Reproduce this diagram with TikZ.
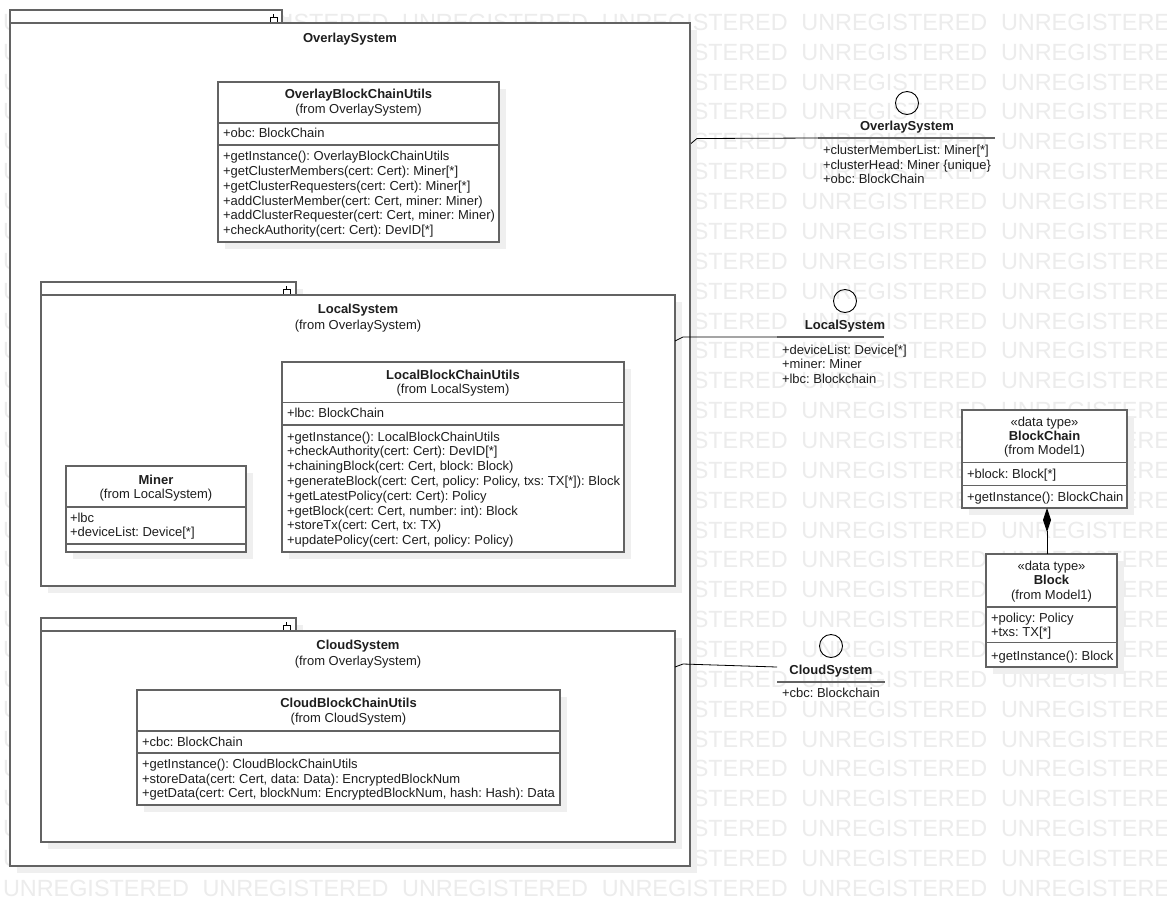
\documentclass[tikz,border=0pt]{standalone}
\usepackage{fontspec}
\setmainfont{Liberation Sans}
\newfontfamily\wmfont{Liberation Sans}
\usetikzlibrary{arrows.meta,calc}
\frenchspacing
\definecolor{bordc}{HTML}{636363}
\definecolor{textc}{HTML}{1E1E1E}
\definecolor{shadc}{HTML}{EFEFEF}
\definecolor{wmc}{HTML}{ECECEC}
\tikzset{
 pkgbox/.style={draw=bordc, line width=1.5pt, fill=white, inner sep=0, outer sep=0, anchor=north west},
 shad/.style={fill=shadc, draw=none},
 clsbox/.style={draw=bordc, line width=1.5pt, fill=white, inner sep=0, outer sep=0, anchor=north west},
 lbl/.style={inner sep=0, outer sep=0, text=textc, font=\fontsize{13}{15}\selectfont\frenchspacing, text height=9.3pt, text depth=0pt},
 ttl/.style={lbl, font=\fontsize{13}{15}\selectfont\bfseries},
 lft/.style={lbl, anchor=west},
 divl/.style={draw=bordc, line width=1.5pt},
 conn/.style={draw=black, line width=0.8pt},
 iface/.style={circle, draw=black, line width=0.9pt, minimum size=23pt, inner sep=0, fill=none},
 ifline/.style={draw=bordc, line width=1.5pt},
 tabicon/.style={draw=black, line width=0.9pt},
 comp/.style={draw=black, line width=0.9pt, {Diamond[length=24pt,width=8pt]}-},
 wm/.style={text=wmc, inner sep=0, outer sep=0, anchor=west, font=\wmfont\fontsize{23.4}{25}\selectfont, text height=16.8pt, text depth=0pt},
}
\begin{document}
\begin{tikzpicture}[x=1pt,y=-1pt]
\useasboundingbox (0,0) rectangle (1167,906);
\fill[white] (0,0) rectangle (1167,906);
% watermark
\begin{scope}
\clip (0,0) rectangle (1167,906);
\foreach \r in {0,...,29}{
 \foreach \k in {0,...,5}{
  \node[wm] (wm-\r-\k) at ({3+199.6*\k},{22+29.86*\r}) {UNREGISTERED};
 }
}
\end{scope}

% ===== OverlaySystem package =====
\fill[shad] (17,17) rectangle (289,30);
\fill[shad] (17,30) rectangle (697,873);
\node[pkgbox, minimum width=272pt, minimum height=13pt] (ovtab) at (10,10) {};
\node[pkgbox, minimum width=680pt, minimum height=843pt] (ovbody) at (10,23) {};
\draw[tabicon] (270,21.5) -- (270,17) -- (277,17) -- (277,21.5);
\draw[tabicon] (273.5,17) -- (273.5,13.5);
\node[ttl] (ovtitle) at (350,38) {OverlaySystem};

% OverlayBlockChainUtils
\fill[shad] (225,89) rectangle (506,249);
\node[clsbox, minimum width=281pt, minimum height=160pt] (obcu) at (218,82) {};
\node[ttl] (obcu-n) at (358.5,94) {OverlayBlockChainUtils};
\node[lbl] (obcu-f) at (358.5,109) {(from OverlaySystem)};
\draw[divl] (218,123) -- (499,123);
\node[lft] (obcu-a1) at (223,133) {+obc: BlockChain};
\draw[divl] (218,145) -- (499,145);
\foreach \t [count=\i] in {{+getInstance(): OverlayBlockChainUtils},{+getClusterMembers(cert: Cert): Miner[*]},{+getClusterRequesters(cert: Cert): Miner[*]},{+addClusterMember(cert: Cert, miner: Miner)},{+addClusterRequester(cert: Cert, miner: Miner)},{+checkAuthority(cert: Cert): DevID[*]}}{
 \node[lft] (obcu-m\i) at (223,{156+14.8*(\i-1)}) {\t};
}

% ===== LocalSystem package =====
\fill[shad] (48,289) rectangle (303,302);
\fill[shad] (48,302) rectangle (682,593);
\node[pkgbox, minimum width=255pt, minimum height=13pt] (lstab) at (41,282) {};
\node[pkgbox, minimum width=634pt, minimum height=291pt] (lsbody) at (41,295) {};
\draw[tabicon] (283,293.5) -- (283,289) -- (290,289) -- (290,293.5);
\draw[tabicon] (286.5,289) -- (286.5,285.5);
\node[ttl] (lstitle) at (358,309) {LocalSystem};
\node[lbl] (lsfrom) at (358,325) {(from OverlaySystem)};

% LocalBlockChainUtils
\fill[shad] (289,369) rectangle (631,559);
\node[clsbox, minimum width=342pt, minimum height=190pt] (lbcu) at (282,362) {};
\node[ttl] (lbcu-n) at (453,375) {LocalBlockChainUtils};
\node[lbl] (lbcu-f) at (453,389) {(from LocalSystem)};
\draw[divl] (282,402.5) -- (624,402.5);
\node[lft] (lbcu-a1) at (287,412.5) {+lbc: BlockChain};
\draw[divl] (282,425) -- (624,425);
\foreach \t [count=\i] in {{+getInstance(): LocalBlockChainUtils},{+checkAuthority(cert: Cert): DevID[*]},{+chainingBlock(cert: Cert, block: Block)},{+generateBlock(cert: Cert, policy: Policy, txs: TX[*]): Block},{+getLatestPolicy(cert: Cert): Policy},{+getBlock(cert: Cert, number: int): Block},{+storeTx(cert: Cert, tx: TX)},{+updatePolicy(cert: Cert, policy: Policy)}}{
 \node[lft] (lbcu-m\i) at (287,{436.5+14.8*(\i-1)}) {\t};
}

% Miner
\fill[shad] (73,473) rectangle (253,559);
\node[clsbox, minimum width=180pt, minimum height=86pt] (miner) at (66,466) {};
\node[ttl] (miner-n) at (156,480) {Miner};
\node[lbl] (miner-f) at (156,494) {(from LocalSystem)};
\draw[divl] (66,507) -- (246,507);
\node[lft] (miner-a1) at (70,517.5) {+lbc};
\node[lft] (miner-a2) at (70,532) {+deviceList: Device[*]};
\draw[divl] (66,544) -- (246,544);

% ===== CloudSystem package =====
\fill[shad] (48,625) rectangle (303,638);
\fill[shad] (48,638) rectangle (682,849);
\node[pkgbox, minimum width=255pt, minimum height=13pt] (cstab) at (41,618) {};
\node[pkgbox, minimum width=634pt, minimum height=211pt] (csbody) at (41,631) {};
\draw[tabicon] (283,629.5) -- (283,625) -- (290,625) -- (290,629.5);
\draw[tabicon] (286.5,625) -- (286.5,621.5);
\node[ttl] (cstitle) at (358,645) {CloudSystem};
\node[lbl] (csfrom) at (358,661) {(from OverlaySystem)};

% CloudBlockChainUtils
\fill[shad] (144,697) rectangle (567,812);
\node[clsbox, minimum width=423pt, minimum height=115pt] (cbcu) at (137,690) {};
\node[ttl] (cbcu-n) at (348.5,703) {CloudBlockChainUtils};
\node[lbl] (cbcu-f) at (348.5,718) {(from CloudSystem)};
\draw[divl] (137,731) -- (560,731);
\node[lft] (cbcu-a1) at (142,741.5) {+cbc: BlockChain};
\draw[divl] (137,753) -- (560,753);
\foreach \t [count=\i] in {{+getInstance(): CloudBlockChainUtils},{+storeData(cert: Cert, data: Data): EncryptedBlockNum},{+getData(cert: Cert, blockNum: EncryptedBlockNum, hash: Hash): Data}}{
 \node[lft] (cbcu-m\i) at (142,{764+14.6*(\i-1)}) {\t};
}

% ===== Interfaces =====
% OverlaySystem interface
\node[iface] (ovi) at (907,103) {};
\node[ttl] (ovi-n) at (907,126) {OverlaySystem};
\coordinate (oviL) at (818,138);
\draw[ifline] (oviL) -- (995,138);
\node[lft] (ovi-a1) at (823,149.5) {+clusterMemberList: Miner[*]};
\node[lft] (ovi-a2) at (823,164.5) {+clusterHead: Miner \{unique\}};
\node[lft] (ovi-a3) at (823,179) {+obc: BlockChain};
\draw[conn] ($(ovbody.north east)+(1,120.5)$) -- ++(6,-5) -- (oviL);

% LocalSystem interface
\node[iface] (lsi) at (845,301) {};
\node[ttl] (lsi-n) at (845,325) {LocalSystem};
\coordinate (lsiL) at (777,337);
\draw[ifline] (lsiL) -- (884,337);
\node[lft] (lsi-a1) at (782,349.5) {+deviceList: Device[*]};
\node[lft] (lsi-a2) at (782,364) {+miner: Miner};
\node[lft] (lsi-a3) at (782,378.5) {+lbc: Blockchain};
\draw[conn] ($(lsbody.north east)+(0,46)$) -- ++(8,-4) -- (lsiL);

% CloudSystem interface
\node[iface] (csi) at (831,646) {};
\node[ttl] (csi-n) at (831,669.5) {CloudSystem};
\coordinate (csiC) at (777,667);
\draw[ifline] (777,682) -- (885,682);
\node[lft] (csi-a1) at (782,692.5) {+cbc: Blockchain};
\draw[conn] ($(csbody.north east)+(0,36)$) -- ++(8,-3) -- (csiC);

% ===== Data types =====
% BlockChain
\fill[shad] (969,417) rectangle (1134,515);
\node[clsbox, minimum width=165pt, minimum height=98pt] (bc) at (962,410) {};
\node[lbl] (bc-s) at (1044.5,421.5) {«data type»};
\node[ttl] (bc-n) at (1044.5,435.5) {BlockChain};
\node[lbl] (bc-f) at (1044.5,450) {(from Model1)};
\draw[divl] (962,462.5) -- (1127,462.5);
\node[lft] (bc-a1) at (967,474) {+block: Block[*]};
\draw[divl] (962,485.5) -- (1127,485.5);
\node[lft] (bc-m1) at (967,497) {+getInstance(): BlockChain};

% Block
\fill[shad] (993,561) rectangle (1124,674);
\node[clsbox, minimum width=131pt, minimum height=113pt] (blk) at (986,554) {};
\node[lbl] (blk-s) at (1051.5,565.5) {«data type»};
\node[ttl] (blk-n) at (1051.5,580) {Block};
\node[lbl] (blk-f) at (1051.5,594.5) {(from Model1)};
\draw[divl] (986,607) -- (1117,607);
\node[lft] (blk-a1) at (991,618) {+policy: Policy};
\node[lft] (blk-a2) at (991,632) {+txs: TX[*]};
\draw[divl] (986,642.5) -- (1117,642.5);
\node[lft] (blk-m1) at (991,655.5) {+getInstance(): Block};

% composition
\coordinate (cmpx) at (1047,0);
\draw[comp] (bc.south -| cmpx) -- (blk.north -| cmpx);
\end{tikzpicture}
\end{document}
